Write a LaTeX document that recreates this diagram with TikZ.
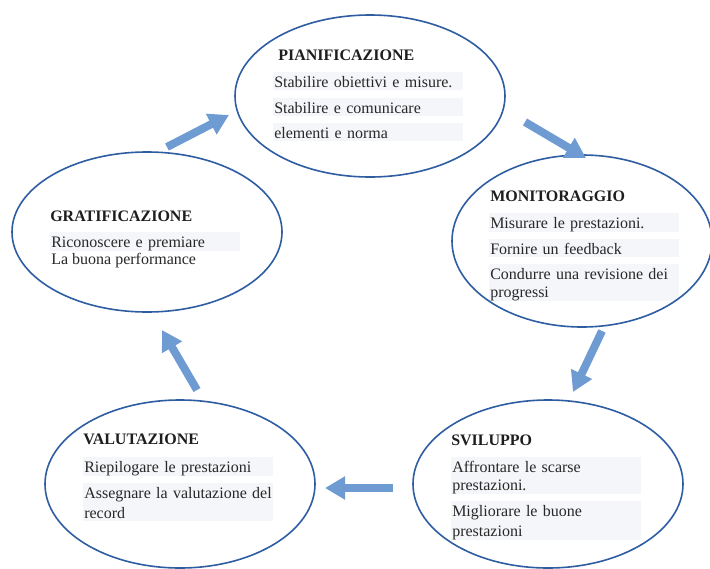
\documentclass[tikz,border=0pt]{standalone}
\usepackage{fontspec}
\setmainfont{Liberation Serif}
\usetikzlibrary{shapes.geometric,arrows.meta}
\definecolor{ringblue}{RGB}{46,93,161}
\definecolor{arrowblue}{RGB}{110,155,210}
\definecolor{boxgray}{RGB}{244,246,249}
\definecolor{headtext}{RGB}{30,30,30}
\definecolor{bodytext}{RGB}{40,40,40}
\newcommand{\bodyfnt}{\fontsize{12}{13.5}\selectfont}
\newcommand{\mystrut}{\vrule width 0pt height 11.5pt depth 2pt\relax}
\tikzset{
  ring/.style={ellipse, draw=ringblue, line width=1.2pt, inner sep=0pt},
  head/.style={anchor=base west, inner sep=0pt, font=\fontsize{12}{13.5}\selectfont\bfseries, text=headtext},
  tbox/.style={fill=boxgray, anchor=north west, inner xsep=0.75pt, inner ysep=0pt,
               text width=141pt, align=left, font=\bodyfnt, text=bodytext},
  plain/.style={anchor=base west, inner sep=0pt, font=\bodyfnt, text=bodytext},
  flow/.style={draw=arrowblue, line width=6pt,
               -{Triangle[length=15pt,width=16.5pt]}, arrowblue}
}
\begin{document}
\begin{tikzpicture}[x=0.75pt,y=-0.75pt]
\clip (0,0) rectangle (710,568);
\fill[white] (0,0) rectangle (710,568);

% PIANIFICAZIONE
\node[head] (pianh) at (278,60) {PIANIFICAZIONE};
\node[tbox] (pian1) at (273,72) {\leavevmode\mystrut Stabilire obiettivi e misure.\mystrut};
\node[tbox] (pian2) at (273,97.5) {\leavevmode\mystrut Stabilire e comunicare\mystrut};
\node[tbox] (pian3) at (273,123) {\leavevmode\mystrut elementi e norma\mystrut};

% MONITORAGGIO
\node[head] (monih) at (490,201) {MONITORAGGIO};
\node[tbox] (moni1) at (489,213) {\leavevmode\mystrut Misurare le prestazioni.\mystrut};
\node[tbox] (moni2) at (489,238.5) {\leavevmode\mystrut Fornire un feedback\mystrut};
\node[tbox] (moni3) at (489,264) {\leavevmode\mystrut Condurre una revisione dei progressi\mystrut};

% GRATIFICAZIONE
\node[head] (grath) at (50,221) {GRATIFICAZIONE};
\node[tbox] (grat1) at (50,232) {\leavevmode\mystrut Riconoscere e premiare\mystrut};
\node[plain] (grat2) at (51,264) {La buona performance};

% VALUTAZIONE
\node[head] (valuh) at (83,444) {VALUTAZIONE};
\node[tbox] (valu1) at (83,457) {\leavevmode\mystrut Riepilogare le prestazioni\mystrut};
\node[tbox] (valu2) at (83,483) {\leavevmode\mystrut Assegnare la valutazione del record\mystrut};

% SVILUPPO
\node[head] (svilh) at (451,445) {SVILUPPO};
\node[tbox] (svil1) at (451,457) {\leavevmode\mystrut Affrontare le scarse prestazioni.\mystrut};
\node[tbox] (svil2) at (451,501) {\leavevmode\mystrut Migliorare le buone prestazioni\mystrut};

% ellipses
\node[ring, minimum width=202.5pt, minimum height=121.5pt] (pian) at (370,96) {};
\node[ring, minimum width=195pt, minimum height=129pt] (moni) at (582,241) {};
\node[ring, minimum width=202.5pt, minimum height=120pt] (grat) at (147,232) {};
\node[ring, minimum width=202.5pt, minimum height=126pt] (valu) at (180,484) {};
\node[ring, minimum width=202.5pt, minimum height=126pt] (svil) at (548,484) {};

% arrow end points
\coordinate (a1s) at (167,147); \coordinate (a1e) at (229,115);
\coordinate (a2s) at (525,122); \coordinate (a2e) at (586,158);
\coordinate (a3s) at (602,331); \coordinate (a3e) at (573,392);
\coordinate (a4s) at (393,488); \coordinate (a4e) at (325,488);
\coordinate (a5s) at (197,390); \coordinate (a5e) at (162,330);

\draw[flow] (a1s) -- (a1e);
\draw[flow] (a2s) -- (a2e);
\draw[flow] (a3s) -- (a3e);
\draw[flow] (a4s) -- (a4e);
\draw[flow] (a5s) -- (a5e);
\end{tikzpicture}
\end{document}
